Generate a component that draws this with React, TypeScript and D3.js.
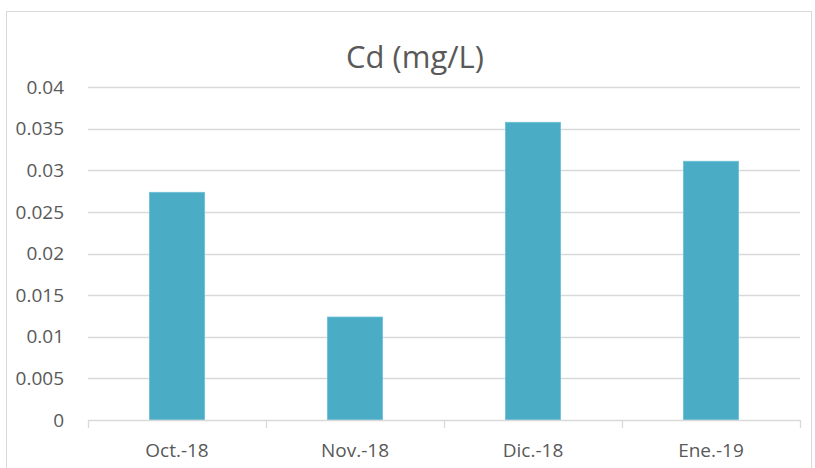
import React from "react";
import * as d3 from "d3";

const categories = ["Oct.-18", "Nov.-18", "Dic.-18", "Ene.-19"];
const values = [0.02735, 0.01237, 0.03576, 0.03108];
const yTicks = [0, 0.005, 0.01, 0.015, 0.02, 0.025, 0.03, 0.035, 0.04];
const yTickLabels = ["0", "0.005", "0.01", "0.015", "0.02", "0.025", "0.03", "0.035", "0.04"];
const title = "Cd (mg/L)";

const W = 815;
const H = 468;
const left = 88;
const right = 800;
const top = 87;
const bottom = 420;
const font = "'Open Sans', 'Liberation Sans', sans-serif";
const textColor = "#595959";

export default function App() {
  const x = d3.scaleBand<string>().domain(categories).range([left, right]).paddingInner(0.69).paddingOuter(0.345);
  const y = d3.scaleLinear().domain([0, 0.04]).range([bottom, top]);
  const step = (right - left) / categories.length;
  return (
    <svg width={W} height={H} style={{ position: "absolute", left: 0, top: 0, background: "#fff" }}>
      <rect x={6.5} y={11.5} width={805} height={470} fill="#fff" stroke="#D9D9D9" strokeWidth={1} />
      <text x={415} y={68} textAnchor="middle" fontFamily={font} fontSize={31} fill={textColor}>{title}</text>
      {yTicks.map((t, i) => (
        <g key={i}>
          {t !== 0 && (
            <line x1={left} x2={right} y1={Math.round(y(t)) + 0.5} y2={Math.round(y(t)) + 0.5} stroke="#D9D9D9" strokeWidth={1.3} />
          )}
          <text x={64} y={y(t)} dy="0.35em" textAnchor="end" fontFamily={font} fontSize={19} fill={textColor}>{yTickLabels[i]}</text>
        </g>
      ))}
      {categories.map((c, i) => (
        <rect key={c} x={x(c)} y={y(values[i])} width={x.bandwidth()} height={bottom - y(values[i])} fill="#4BACC6" stroke="#6CC0D6" strokeWidth={0.8} />
      ))}
      <line x1={left} x2={right} y1={bottom + 0.5} y2={bottom + 0.5} stroke="#D9D9D9" strokeWidth={1.3} />
      {d3.range(categories.length + 1).map((i) => (
        <line key={i} x1={left + i * step + 0.5} x2={left + i * step + 0.5} y1={bottom} y2={bottom + 8} stroke="#D9D9D9" strokeWidth={1.3} />
      ))}
      {categories.map((c) => (
        <text key={c} x={(x(c) as number) + x.bandwidth() / 2} y={457} textAnchor="middle" fontFamily={font} fontSize={19} fill={textColor}>{c}</text>
      ))}
    </svg>
  );
}
